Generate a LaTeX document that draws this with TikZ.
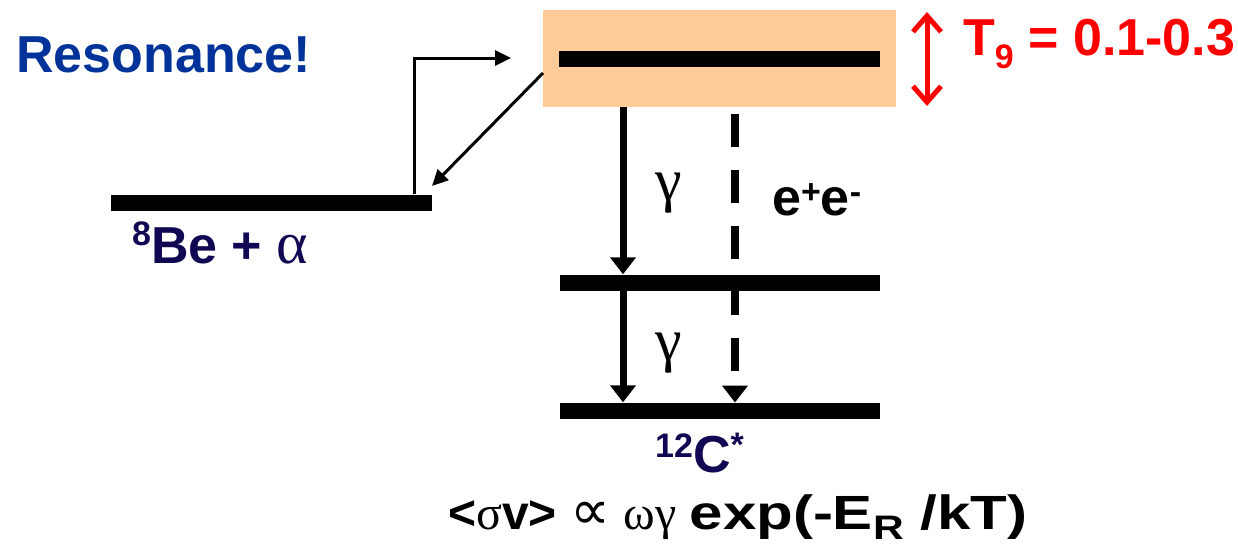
\documentclass[tikz,border=0pt]{standalone}
\usepackage{fontspec}
\setmainfont{Liberation Sans}
\newfontfamily\grk{Liberation Serif}
\newfontfamily\sym{DejaVu Sans}
\usetikzlibrary{arrows.meta}
\definecolor{peach}{RGB}{255,204,153}
\definecolor{resblue}{RGB}{0,51,153}
\definecolor{navy}{RGB}{16,8,82}
\newcommand\hi[2]{\raisebox{#1}{\fontsize{34}{40}\selectfont #2}}
\begin{document}
\begin{tikzpicture}[x=1pt,y=-1pt,
  bar/.style={fill=black,inner sep=0,minimum height=16pt},
  lbl/.style={inner sep=0,anchor=base west},
  big/.style={font=\fontsize{52}{60}\selectfont\bfseries},
  gam/.style={font=\fontsize{60}{70}\selectfont\grk},
  thickarrow/.style={line width=7pt,-{Triangle[length=17pt,width=25pt]}},
  dasharrow/.style={line width=7.5pt,dash pattern=on 33pt off 23pt,-{Triangle[length=17pt,width=25pt]}},
  thinarrow/.style={line width=3pt,-{Triangle[length=16pt,width=15pt]}},
  redarrow/.style={red,line width=5pt,{Straight Barb[length=16pt,width=28pt]}-{Straight Barb[length=16pt,width=28pt]}},
]
\useasboundingbox (0,0) rectangle (1238,547);

% band
\node[fill=peach,inner sep=0,minimum width=353pt,minimum height=97pt] (band) at (719.5,58.5) {};

% dashed e+e- arrow (behind the levels)
\coordinate (eTop) at (735,114);
\coordinate (eBot) at (735,402.5);
\draw[dasharrow] (eTop) -- (eBot);

% levels
\node[bar,minimum width=321pt] (lev3) at (719.5,58.5) {};
\node[bar,minimum width=320pt] (lev2) at (720,282.5) {};
\node[bar,minimum width=320pt] (lev1) at (720,410.5) {};
\node[bar,minimum width=321pt] (lev0) at (271.5,202.5) {};

% gamma arrows
\coordinate (xg) at (623,0);
\draw[thickarrow] (band.south -| xg) -- (lev2.north -| xg);
\draw[thickarrow] (lev2.south -| xg) -- (lev1.north -| xg);

% entrance / exit arrows
\coordinate (xl) at (414,0);
\coordinate (inTip) at (511,58);
\draw[thinarrow] (lev0.north -| xl) |- (inTip);
\coordinate (outS) at (543,73);
\coordinate (outTip) at (432,186);
\draw[thinarrow] (outS) -- (outTip);

% temperature range arrow
\coordinate (tT) at (927,12);
\coordinate (tB) at (927,106);
\draw[redarrow] (tT) -- (tB);

% labels
\node[lbl,big,text=resblue] (res) at (16,72) {Resonance!};
\node[lbl,big,text=red] (temp) at (963,55) {T\hi{-13pt}{9} = 0.1-0.3};
\node[lbl,big,text=navy] (be) at (132,263) {\hi{18pt}{8}Be + {\grk\mdseries\fontsize{60}{70}\selectfont α}};
\node[lbl,gam] (g1) at (655,200) {γ};
\node[lbl,gam] (g2) at (655,360) {γ};
\node[lbl,big] (ee) at (772,215) {e\hi{12pt}{+}e\hi{12pt}{-}};
\node[lbl,big,text=navy] (c12) at (655,472) {\hi{15pt}{12}C\hi{16pt}{*}};
\node[lbl,font=\fontsize{48}{56}\selectfont\bfseries] (rate) at (448,529)
  {<{\grk\mdseries σ}v> {\sym\mdseries\fontsize{56}{60}\selectfont ∝} {\grk\mdseries ωγ} \scalebox{1.25}[1]{exp(-E\hi{-10pt}{R} /kT)}};
\end{tikzpicture}
\end{document}
